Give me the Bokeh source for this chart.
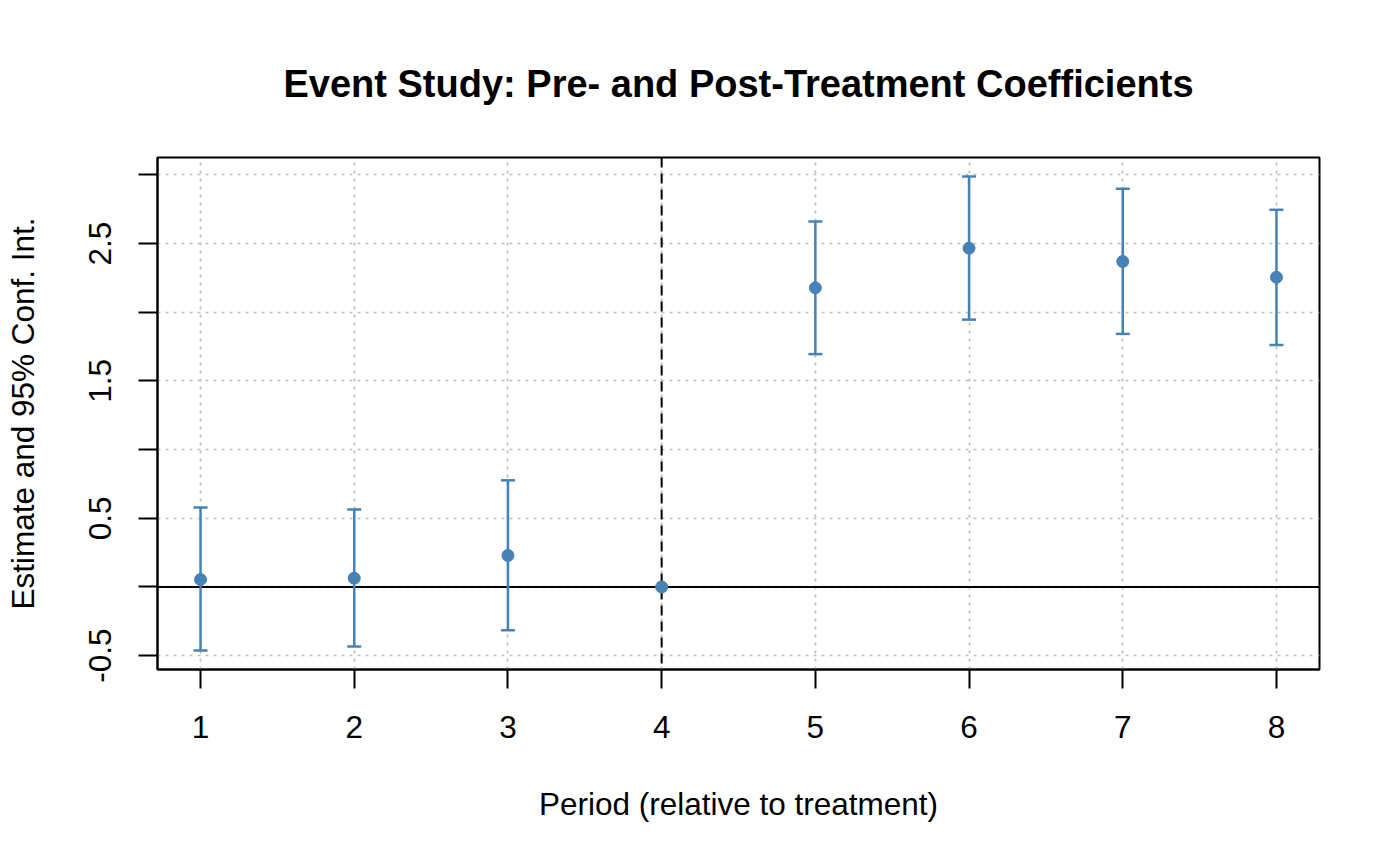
from bokeh.plotting import figure
from bokeh.models import (ColumnDataSource, FixedTicker, Span, Whisker, TeeHead,
                          Range1d, Title)
from bokeh.embed import file_html
from bokeh.resources import INLINE

# ---- data ----
periods = [1, 2, 3, 4, 5, 6, 7, 8]
estimates = [0.054, 0.064, 0.229, 0.0, 2.177, 2.466, 2.369, 2.254]
ci_lower = [-0.463, -0.433, -0.315, None, 1.695, 1.946, 1.842, 1.761]
ci_upper = [0.579, 0.564, 0.776, None, 2.660, 2.988, 2.899, 2.746]
treatment_period = 4
x_ticks = [1, 2, 3, 4, 5, 6, 7, 8]
y_ticks = [-0.5, 0.0, 0.5, 1.0, 1.5, 2.0, 2.5, 3.0]
y_tick_labels = ["-0.5", "", "0.5", "", "1.5", "", "2.5", ""]

title_text = "Event Study: Pre- and Post-Treatment Coefficients"
x_label = "Period (relative to treatment)"
y_label = "Estimate and 95% Conf. Int."

FONT = "Liberation Sans"
BLUE = "#4682B4"
GRID = "#BEBEBE"

# R-like axis ranges (4% padding)
lo = min(v for v in ci_lower if v is not None)
hi = max(v for v in ci_upper if v is not None)
pad_y = (hi - lo) * 0.04
pad_x = (max(periods) - min(periods)) * 0.04

W, H = 1384, 849
p = figure(width=W, height=H, output_backend="svg", toolbar_location=None,
           x_range=Range1d(min(periods) - pad_x, max(periods) + pad_x),
           y_range=Range1d(lo - pad_y, hi + pad_y),
           min_border_left=157, min_border_right=W - 1319,
           min_border_top=157, min_border_bottom=H - 669)
p.background_fill_color = "white"
p.border_fill_color = "white"
p.outline_line_color = "black"
p.outline_line_width = 2

t = Title(text=title_text, align="center", text_font=FONT, text_font_size="38px",
          text_font_style="bold", text_color="black", standoff=106)
p.add_layout(t, "above")

# grids
p.xgrid.ticker = FixedTicker(ticks=x_ticks)
p.ygrid.ticker = FixedTicker(ticks=y_ticks)
for g in (p.xgrid, p.ygrid):
    g.grid_line_color = GRID
    g.grid_line_dash = "3 5"
    g.grid_line_width = 1.7

# axes
p.xaxis.ticker = FixedTicker(ticks=x_ticks)
p.yaxis.ticker = FixedTicker(ticks=y_ticks)
p.yaxis.major_label_overrides = {v: lab for v, lab in zip(y_ticks, y_tick_labels)}
p.yaxis.major_label_orientation = "vertical"
for ax in (p.xaxis, p.yaxis):
    ax.axis_line_color = "black"
    ax.axis_line_width = 2
    ax.major_tick_line_color = "black"
    ax.major_tick_line_width = 2
    ax.major_tick_in = 0
    ax.major_tick_out = 19
    ax.minor_tick_line_color = None
    ax.major_label_text_font = FONT
    ax.major_label_text_font_size = "31.5px"
    ax.major_label_text_color = "black"
    ax.axis_label_text_font = FONT
    ax.axis_label_text_font_size = "31.5px"
    ax.axis_label_text_font_style = "normal"
    ax.axis_label_text_color = "black"
p.xaxis.axis_label = x_label
p.yaxis.axis_label = y_label
p.xaxis.major_label_standoff = 27
p.xaxis.axis_label_standoff = 45
p.yaxis.major_label_standoff = 27
p.yaxis.axis_label_standoff = 46

# reference lines
p.add_layout(Span(location=0, dimension="width", line_color="black",
                  line_width=2, level="underlay"))
p.add_layout(Span(location=treatment_period, dimension="height", line_color="black",
                  line_width=2, line_dash="10 6", level="underlay"))

# confidence intervals
ci_rows = [(x, l, u) for x, l, u in zip(periods, ci_lower, ci_upper) if l is not None]
ci_src = ColumnDataSource(dict(x=[r[0] for r in ci_rows],
                               lower=[r[1] for r in ci_rows],
                               upper=[r[2] for r in ci_rows]))
w = Whisker(base="x", lower="lower", upper="upper", source=ci_src,
            line_color=BLUE, line_width=2.5,
            upper_head=TeeHead(size=14, line_color=BLUE, line_width=2.5),
            lower_head=TeeHead(size=14, line_color=BLUE, line_width=2.5))
p.add_layout(w)

# point estimates
pt_src = ColumnDataSource(dict(x=periods, y=estimates))
p.scatter("x", "y", source=pt_src, size=12, fill_color=BLUE, line_color=BLUE)

open("out.html", "w").write(file_html(p, INLINE))
